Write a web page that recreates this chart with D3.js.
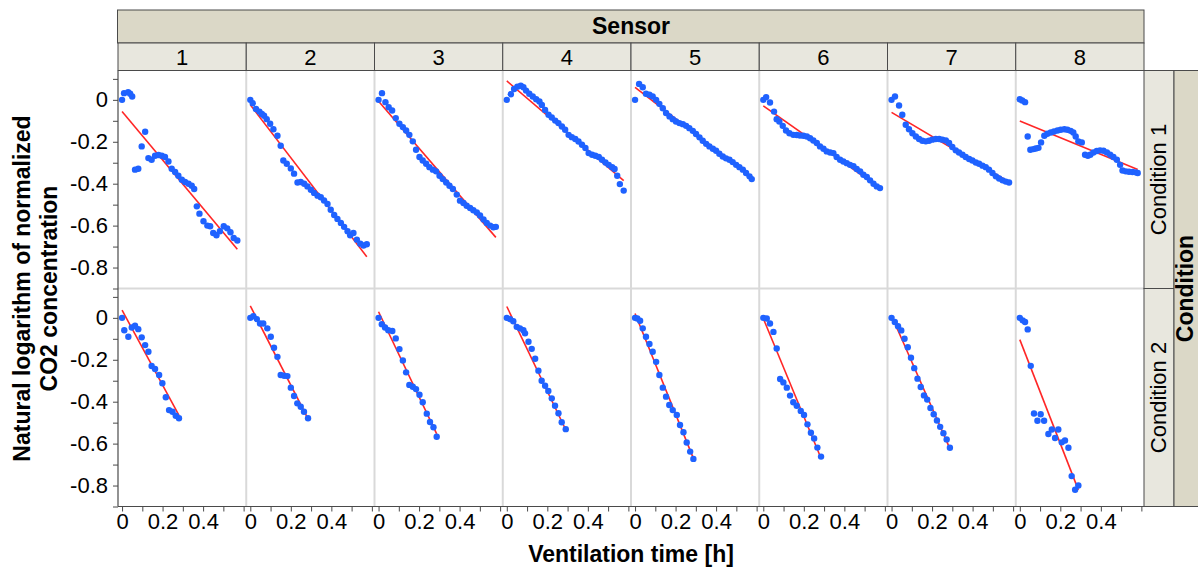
<!DOCTYPE html>
<html>
<head>
<meta charset="utf-8">
<script src="https://cdn.jsdelivr.net/npm/d3@7"></script>
<style>
  body { margin: 0; background: #fff; }
  svg { display: block; font-family: "Liberation Sans", Arial, sans-serif; }
</style>
</head>
<body>
<svg id="chart" width="1198" height="573"></svg>
<script>
// categories
const sensors = ["1", "2", "3", "4", "5", "6", "7", "8"];
const conditions = ["Condition 1", "Condition 2"];

// axis ticks
const xTicks = [0, 0.1, 0.2, 0.3, 0.4, 0.5, 0.6];
const xTickLabels = { 0: "0", 0.2: "0.2", 0.4: "0.4" };
const yTicks = [0.1, 0, -0.1, -0.2, -0.3, -0.4, -0.5, -0.6, -0.7, -0.8, -0.9];
const yTickLabels = { "0": "0", "-0.2": "-0.2", "-0.4": "-0.4", "-0.6": "-0.6", "-0.8": "-0.8" };

// Condition 1 : ventilation time [h] and ln(normalized CO2)
const s1_c1_t = [0, 0.01, 0.03, 0.04, 0.05, 0.064, 0.08, 0.097, 0.114, 0.13, 0.146, 0.163, 0.18, 0.196, 0.212, 0.229, 0.245, 0.262, 0.278, 0.295, 0.311, 0.328, 0.344, 0.356, 0.369, 0.382, 0.402, 0.421, 0.435, 0.45, 0.466, 0.483, 0.502, 0.519, 0.535, 0.551, 0.569];
const s1_c1_v = [0, 0.032, 0.037, 0.029, 0.016, -0.333, -0.329, -0.222, -0.152, -0.278, -0.286, -0.267, -0.263, -0.267, -0.273, -0.294, -0.329, -0.344, -0.362, -0.381, -0.392, -0.4, -0.41, -0.425, -0.508, -0.543, -0.579, -0.6, -0.603, -0.635, -0.646, -0.627, -0.603, -0.613, -0.632, -0.659, -0.671];

const s2_c1_t = [0, 0.012, 0.028, 0.045, 0.057, 0.068, 0.081, 0.098, 0.114, 0.134, 0.15, 0.163, 0.18, 0.2, 0.216, 0.233, 0.249, 0.266, 0.282, 0.299, 0.315, 0.332, 0.348, 0.364, 0.381, 0.397, 0.414, 0.43, 0.447, 0.463, 0.48, 0.493, 0.509, 0.526, 0.543, 0.559, 0.575];
const s2_c1_v = [0, -0.016, -0.044, -0.056, -0.067, -0.076, -0.092, -0.114, -0.14, -0.171, -0.219, -0.289, -0.305, -0.327, -0.352, -0.394, -0.392, -0.4, -0.413, -0.429, -0.444, -0.457, -0.465, -0.48, -0.497, -0.524, -0.549, -0.568, -0.587, -0.606, -0.627, -0.646, -0.635, -0.667, -0.686, -0.695, -0.689];

const s3_c1_t = [0, 0.017, 0.034, 0.05, 0.067, 0.085, 0.103, 0.12, 0.136, 0.152, 0.169, 0.185, 0.202, 0.218, 0.235, 0.251, 0.268, 0.284, 0.301, 0.317, 0.334, 0.35, 0.367, 0.386, 0.402, 0.419, 0.435, 0.452, 0.468, 0.485, 0.501, 0.518, 0.534, 0.551, 0.567, 0.579];
const s3_c1_v = [0, 0.032, -0.011, -0.035, -0.051, -0.087, -0.114, -0.13, -0.146, -0.167, -0.198, -0.238, -0.273, -0.289, -0.305, -0.321, -0.333, -0.341, -0.362, -0.378, -0.394, -0.41, -0.425, -0.452, -0.481, -0.492, -0.505, -0.516, -0.527, -0.537, -0.552, -0.571, -0.587, -0.6, -0.608, -0.606];

const s4_c1_t = [0, 0.02, 0.036, 0.052, 0.069, 0.082, 0.095, 0.111, 0.128, 0.145, 0.161, 0.173, 0.189, 0.206, 0.222, 0.239, 0.255, 0.272, 0.288, 0.305, 0.321, 0.338, 0.354, 0.371, 0.388, 0.404, 0.421, 0.437, 0.454, 0.47, 0.487, 0.503, 0.52, 0.532, 0.545, 0.558, 0.577];
const s4_c1_v = [0, 0.027, 0.052, 0.063, 0.067, 0.06, 0.044, 0.029, 0.016, 0.003, -0.008, -0.024, -0.048, -0.071, -0.084, -0.099, -0.111, -0.127, -0.143, -0.167, -0.178, -0.187, -0.199, -0.214, -0.23, -0.254, -0.262, -0.267, -0.273, -0.286, -0.299, -0.31, -0.321, -0.33, -0.362, -0.402, -0.433];

const s5_c1_t = [0, 0.02, 0.038, 0.054, 0.071, 0.087, 0.104, 0.12, 0.137, 0.153, 0.17, 0.186, 0.202, 0.219, 0.236, 0.252, 0.268, 0.285, 0.301, 0.318, 0.334, 0.351, 0.367, 0.384, 0.4, 0.416, 0.433, 0.449, 0.466, 0.482, 0.499, 0.515, 0.532, 0.548, 0.565, 0.576];
const s5_c1_v = [0, 0.076, 0.06, 0.029, 0.024, 0.016, 0, -0.019, -0.04, -0.063, -0.079, -0.092, -0.103, -0.111, -0.116, -0.124, -0.135, -0.148, -0.163, -0.179, -0.195, -0.21, -0.222, -0.233, -0.243, -0.257, -0.27, -0.279, -0.286, -0.297, -0.31, -0.321, -0.333, -0.349, -0.365, -0.378];

const s6_c1_t = [0, 0.014, 0.033, 0.053, 0.066, 0.079, 0.096, 0.112, 0.129, 0.148, 0.165, 0.181, 0.198, 0.215, 0.231, 0.247, 0.264, 0.28, 0.297, 0.313, 0.33, 0.346, 0.362, 0.379, 0.395, 0.412, 0.428, 0.445, 0.461, 0.478, 0.494, 0.511, 0.527, 0.544, 0.56, 0.576];
const s6_c1_v = [0, 0.013, -0.013, -0.056, -0.092, -0.103, -0.124, -0.146, -0.159, -0.167, -0.168, -0.17, -0.171, -0.175, -0.183, -0.194, -0.206, -0.222, -0.233, -0.246, -0.251, -0.254, -0.273, -0.286, -0.294, -0.302, -0.31, -0.317, -0.33, -0.341, -0.357, -0.368, -0.384, -0.4, -0.413, -0.421];

const s7_c1_t = [0, 0.017, 0.037, 0.053, 0.07, 0.086, 0.103, 0.12, 0.136, 0.152, 0.169, 0.185, 0.201, 0.218, 0.235, 0.251, 0.268, 0.284, 0.3, 0.317, 0.333, 0.35, 0.366, 0.383, 0.399, 0.416, 0.432, 0.449, 0.465, 0.481, 0.498, 0.515, 0.531, 0.548, 0.564, 0.58];
const s7_c1_v = [0, 0.016, -0.027, -0.071, -0.119, -0.14, -0.159, -0.175, -0.187, -0.195, -0.198, -0.195, -0.19, -0.187, -0.187, -0.19, -0.194, -0.206, -0.225, -0.241, -0.251, -0.262, -0.273, -0.282, -0.289, -0.299, -0.305, -0.314, -0.321, -0.333, -0.349, -0.365, -0.375, -0.384, -0.39, -0.394];

const s8_c1_t = [0, 0.012, 0.026, 0.039, 0.052, 0.067, 0.079, 0.092, 0.105, 0.121, 0.136, 0.153, 0.169, 0.186, 0.202, 0.22, 0.235, 0.251, 0.264, 0.276, 0.289, 0.306, 0.322, 0.336, 0.348, 0.363, 0.38, 0.396, 0.413, 0.43, 0.446, 0.462, 0.479, 0.495, 0.507, 0.523, 0.539, 0.556, 0.572, 0.582];
const s8_c1_v = [0.003, -0.003, -0.011, -0.175, -0.238, -0.235, -0.232, -0.229, -0.203, -0.171, -0.162, -0.156, -0.151, -0.146, -0.143, -0.14, -0.143, -0.148, -0.156, -0.175, -0.198, -0.203, -0.262, -0.267, -0.262, -0.251, -0.244, -0.241, -0.243, -0.251, -0.262, -0.273, -0.286, -0.31, -0.337, -0.341, -0.343, -0.344, -0.346, -0.349];

// Condition 2
const s1_c2_t = [0, 0.011, 0.031, 0.048, 0.064, 0.08, 0.097, 0.114, 0.13, 0.146, 0.163, 0.183, 0.199, 0.216, 0.232, 0.249, 0.265, 0.281];
const s1_c2_v = [0, -0.059, -0.09, -0.046, -0.038, -0.054, -0.093, -0.13, -0.162, -0.23, -0.244, -0.273, -0.312, -0.379, -0.44, -0.448, -0.467, -0.479];

const s2_c2_t = [0, 0.015, 0.032, 0.048, 0.064, 0.084, 0.101, 0.117, 0.134, 0.15, 0.167, 0.183, 0.2, 0.216, 0.232, 0.249, 0.265, 0.285];
const s2_c2_v = [0, 0.008, -0.006, -0.027, -0.027, -0.05, -0.09, -0.143, -0.186, -0.273, -0.276, -0.278, -0.333, -0.373, -0.408, -0.424, -0.448, -0.479];

const s3_c2_t = [0, 0.016, 0.032, 0.048, 0.068, 0.085, 0.103, 0.12, 0.136, 0.152, 0.169, 0.185, 0.202, 0.218, 0.238, 0.254, 0.271, 0.287];
const s3_c2_v = [0, -0.03, -0.046, -0.059, -0.063, -0.098, -0.149, -0.203, -0.26, -0.32, -0.329, -0.34, -0.367, -0.403, -0.457, -0.497, -0.522, -0.567];

const s4_c2_t = [0, 0.016, 0.032, 0.049, 0.065, 0.082, 0.09, 0.107, 0.123, 0.14, 0.156, 0.172, 0.189, 0.205, 0.222, 0.238, 0.255, 0.271, 0.291];
const s4_c2_v = [0, -0.006, -0.016, -0.043, -0.05, -0.059, -0.074, -0.114, -0.148, -0.195, -0.252, -0.3, -0.324, -0.349, -0.384, -0.419, -0.455, -0.498, -0.531];

const s5_c2_t = [0, 0.011, 0.025, 0.038, 0.054, 0.071, 0.087, 0.104, 0.12, 0.137, 0.153, 0.169, 0.186, 0.206, 0.222, 0.239, 0.255, 0.272, 0.288];
const s5_c2_v = [0, -0.003, -0.014, -0.05, -0.09, -0.125, -0.162, -0.21, -0.273, -0.333, -0.376, -0.416, -0.44, -0.463, -0.511, -0.546, -0.595, -0.638, -0.673];

const s6_c2_t = [0, 0.017, 0.033, 0.05, 0.066, 0.083, 0.099, 0.116, 0.132, 0.148, 0.165, 0.185, 0.201, 0.218, 0.235, 0.251, 0.267, 0.285];
const s6_c2_v = [0, -0.003, -0.027, -0.067, -0.146, -0.292, -0.308, -0.333, -0.371, -0.403, -0.419, -0.444, -0.463, -0.508, -0.548, -0.575, -0.619, -0.662];

const s7_c2_t = [0, 0.016, 0.032, 0.048, 0.064, 0.08, 0.096, 0.112, 0.128, 0.144, 0.16, 0.176, 0.192, 0.208, 0.224, 0.24, 0.256, 0.272, 0.288];
const s7_c2_v = [0, -0.02, -0.04, -0.06, -0.1, -0.14, -0.19, -0.24, -0.29, -0.33, -0.37, -0.39, -0.43, -0.46, -0.49, -0.52, -0.55, -0.58, -0.62];

const s8_c2_t = [0, 0.014, 0.026, 0.039, 0.054, 0.07, 0.087, 0.103, 0.12, 0.141, 0.158, 0.174, 0.19, 0.207, 0.223, 0.24, 0.256, 0.273, 0.289];
const s8_c2_v = [0, -0.012, -0.02, -0.055, -0.229, -0.456, -0.491, -0.46, -0.491, -0.554, -0.533, -0.573, -0.533, -0.594, -0.585, -0.62, -0.755, -0.82, -0.8];

// linear fits (intercept, slope) per sensor
const fit_c1_intercept = [-0.056, -0.024, -0.007, 0.09, 0.06, -0.029, -0.06, -0.101];
const fit_c1_slope = [-1.154, -1.26, -1.121, -0.824, -0.747, -0.68, -0.572, -0.398];
const fit_c2_intercept = [0.037, 0.057, 0.029, 0.054, 0.021, -0.003, 0.01, -0.104];
const fit_c2_slope = [-1.786, -1.89, -2.03, -2.02, -2.4, -2.34, -2.2, -2.48];

const series = [
  [[s1_c1_t, s1_c1_v], [s2_c1_t, s2_c1_v], [s3_c1_t, s3_c1_v], [s4_c1_t, s4_c1_v],
   [s5_c1_t, s5_c1_v], [s6_c1_t, s6_c1_v], [s7_c1_t, s7_c1_v], [s8_c1_t, s8_c1_v]],
  [[s1_c2_t, s1_c2_v], [s2_c2_t, s2_c2_v], [s3_c2_t, s3_c2_v], [s4_c2_t, s4_c2_v],
   [s5_c2_t, s5_c2_v], [s6_c2_t, s6_c2_v], [s7_c2_t, s7_c2_v], [s8_c2_t, s8_c2_v]]
];
const fits = [
  [fit_c1_intercept, fit_c1_slope],
  [fit_c2_intercept, fit_c2_slope]
];

// layout
const L = {
  left: 118, top: 70.5, panelW: 128.25, rowH: 218,
  headTop: 10, headMid: 43,
  stripW: 30, bandW: 26
};
const right = L.left + L.panelW * sensors.length;
const bottom = L.top + L.rowH * conditions.length;

const c = {
  band: "#dbd8c7", strip: "#e8e7de", border: "#4a4a4a",
  grid: "#d9d9d9", point: "#1f62ff", fit: "#ff2626", text: "#000"
};
const fsReg = 22, fsBold = 23;
const fontFam = "Liberation Sans, Arial, sans-serif";

const svg = d3.select("#chart");

const x = d3.scaleLinear().domain([-0.02, 0.613]).range([0, L.panelW]);
const y = d3.scaleLinear().domain([-0.9, 0.14]).range([L.rowH, 0]);

// panel separators
const grid = svg.append("g");
sensors.forEach((s, i) => {
  if (i > 0) {
    grid.append("line")
      .attr("x1", L.left + i * L.panelW).attr("x2", L.left + i * L.panelW)
      .attr("y1", L.top).attr("y2", bottom)
      .attr("stroke", c.grid).attr("stroke-width", 2);
  }
});
grid.append("line")
  .attr("x1", L.left).attr("x2", right)
  .attr("y1", L.top + L.rowH).attr("y2", L.top + L.rowH)
  .attr("stroke", c.grid).attr("stroke-width", 2);

// panels
conditions.forEach((cond, r) => {
  sensors.forEach((s, i) => {
    const g = svg.append("g")
      .attr("transform", `translate(${L.left + i * L.panelW},${L.top + r * L.rowH})`);
    const [ts, vs] = series[r][i];
    const pts = ts.map((t, k) => ({ t: t, v: vs[k] }));
    const a = fits[r][0][i], b = fits[r][1][i];
    const tEnd = d3.max(ts);

    g.append("line")
      .attr("x1", x(0)).attr("y1", y(a))
      .attr("x2", x(tEnd)).attr("y2", y(a + b * tEnd))
      .attr("stroke", c.fit).attr("stroke-width", 1.6);

    g.selectAll("circle")
      .data(pts)
      .join("circle")
      .attr("cx", d => x(d.t))
      .attr("cy", d => y(d.v))
      .attr("r", 3.2)
      .attr("fill", c.point);
  });
});

// y axes
conditions.forEach((cond, r) => {
  const ax = svg.append("g")
    .attr("transform", `translate(${L.left},${L.top + r * L.rowH})`)
    .call(d3.axisLeft(y)
      .tickValues(yTicks)
      .tickSize(5)
      .tickPadding(5)
      .tickFormat(d => yTickLabels[String(+d.toFixed(1))] || ""));
  ax.select(".domain").remove();
  ax.selectAll(".tick line").attr("stroke", c.border);
  ax.selectAll(".tick text").attr("font-size", fsReg).attr("font-family", fontFam).attr("fill", c.text);
});
svg.append("line")
  .attr("x1", L.left).attr("x2", L.left)
  .attr("y1", L.top).attr("y2", bottom)
  .attr("stroke", c.border).attr("stroke-width", 1.2);

// x axes
sensors.forEach((s, i) => {
  const ax = svg.append("g")
    .attr("transform", `translate(${L.left + i * L.panelW},${bottom})`)
    .call(d3.axisBottom(x)
      .tickValues(xTicks)
      .tickSize(5)
      .tickPadding(2)
      .tickFormat(d => xTickLabels[+d.toFixed(1)] || ""));
  ax.select(".domain").remove();
  ax.selectAll(".tick line").attr("stroke", c.border);
  ax.selectAll(".tick text").attr("font-size", fsReg).attr("font-family", fontFam).attr("fill", c.text);
});
svg.append("line")
  .attr("x1", L.left).attr("x2", right)
  .attr("y1", bottom).attr("y2", bottom)
  .attr("stroke", c.border).attr("stroke-width", 1.2);

// top header: Sensor
svg.append("rect")
  .attr("x", L.left - 0.5).attr("y", L.headTop)
  .attr("width", right - L.left + 0.5).attr("height", L.headMid - L.headTop)
  .attr("fill", c.band).attr("stroke", c.border);
svg.append("text")
  .attr("x", (L.left + right) / 2).attr("y", 34)
  .attr("text-anchor", "middle").attr("font-size", fsBold).attr("font-weight", "bold")
  .text("Sensor");
sensors.forEach((s, i) => {
  svg.append("rect")
    .attr("x", L.left + i * L.panelW).attr("y", L.headMid)
    .attr("width", L.panelW).attr("height", L.top - L.headMid)
    .attr("fill", c.strip).attr("stroke", c.border);
  svg.append("text")
    .attr("x", L.left + (i + 0.5) * L.panelW).attr("y", 65)
    .attr("text-anchor", "middle").attr("font-size", fsReg)
    .text(s);
});

// right strips: Condition
conditions.forEach((cond, r) => {
  svg.append("rect")
    .attr("x", right).attr("y", L.top + r * L.rowH)
    .attr("width", L.stripW).attr("height", L.rowH)
    .attr("fill", c.strip).attr("stroke", c.border);
  svg.append("text")
    .attr("transform", `translate(${right + 22},${L.top + (r + 0.5) * L.rowH}) rotate(-90)`)
    .attr("text-anchor", "middle").attr("font-size", fsReg)
    .text(cond);
});
svg.append("rect")
  .attr("x", right + L.stripW).attr("y", L.top)
  .attr("width", L.bandW + 10).attr("height", bottom - L.top)
  .attr("fill", c.band).attr("stroke", c.border);
svg.append("text")
  .attr("transform", `translate(${right + L.stripW + 19},${(L.top + bottom) / 2}) rotate(-90)`)
  .attr("text-anchor", "middle").attr("font-size", fsBold).attr("font-weight", "bold")
  .text("Condition");

// axis titles
svg.append("text")
  .attr("x", (L.left + right) / 2).attr("y", 562)
  .attr("text-anchor", "middle").attr("font-size", fsBold).attr("font-weight", "bold")
  .text("Ventilation time [h]");
[["Natural logarithm of normalized", 30], ["CO2 concentration", 57]].forEach(([txt, bx]) => {
  svg.append("text")
    .attr("transform", `translate(${bx},${(L.top + bottom) / 2}) rotate(-90)`)
    .attr("text-anchor", "middle").attr("font-size", fsBold).attr("font-weight", "bold")
    .text(txt);
});
</script>
</body>
</html>
